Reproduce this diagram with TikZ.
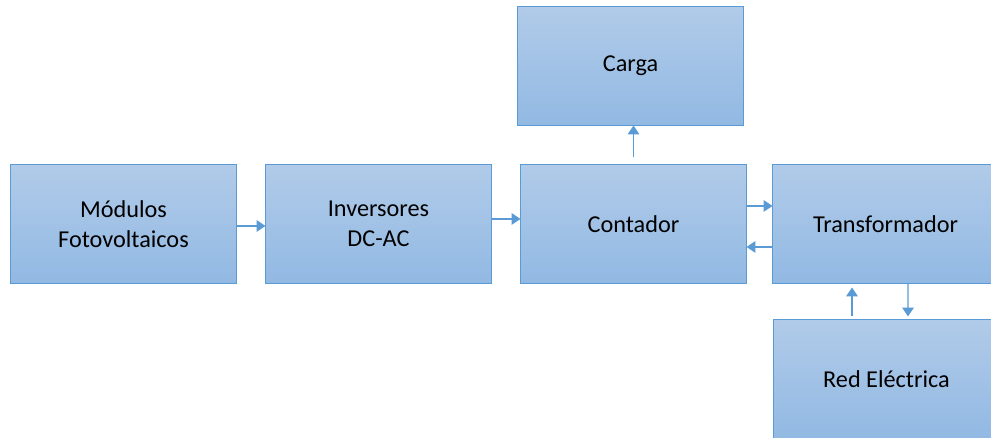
\documentclass[tikz,border=0pt]{standalone}
\usepackage{fontspec}
\setmainfont{Carlito}
\definecolor{boxline}{RGB}{91, 155, 213}
\definecolor{boxtop}{RGB}{177, 203, 233}
\definecolor{boxbottom}{RGB}{146, 185, 227}
\usepackage{tikz}
\usetikzlibrary{shapes, arrows.meta, positioning, calc}

\tikzset{
  blockbox/.style={draw=boxline, line width=0.6pt, top color=boxtop,
    bottom color=boxbottom, minimum width=4.52cm, minimum height=2.38cm,
    outer sep=0pt, align=center, font=\fontsize{13.8}{17}\selectfont},
  flowarrow/.style={draw=boxline, line width=0.7pt,
    -{Triangle[length=5pt, width=6.5pt]}}
}

\begin{document}
\begin{tikzpicture}
  \useasboundingbox (0,0) rectangle (19.82,8.76);

  % bloques
  \node[blockbox] (modulos) at (2.47,4.28) {Módulos\\Fotovoltaicos};
  \node[blockbox, right=0.58cm of modulos] (inversores) {Inversores\\DC-AC};
  \node[blockbox, right=0.58cm of inversores] (contador) {Contador};
  \node[blockbox, right=0.52cm of contador] (transformador) {Transformador};
  \node[blockbox, above=0.78cm of contador, xshift=-0.06cm] (carga) {Carga};
  \node[blockbox, below=0.72cm of transformador, xshift=0.02cm] (red) {Red Eléctrica};

  % flechas
  \draw[flowarrow] ([yshift=-0.04cm]modulos.east) -- ([yshift=-0.04cm]inversores.west);
  \draw[flowarrow] ([yshift=0.1cm]inversores.east) -- ([yshift=0.1cm]contador.west);
  \draw[flowarrow, shorten <=0.14cm] (contador.north) -- (contador.north |- carga.south);
  \draw[flowarrow] ([yshift=0.36cm]contador.east) -- ([yshift=0.36cm]transformador.west);
  \draw[flowarrow] ([yshift=-0.46cm]transformador.west) -- ([yshift=-0.46cm]contador.east);
  \draw[flowarrow, shorten <=0.06cm, shorten >=0.08cm]
    ([xshift=-0.69cm]red.north) -- ([xshift=-0.67cm]transformador.south);
  \draw[flowarrow, shorten >=0.06cm]
    ([xshift=0.45cm]transformador.south) -- ([xshift=0.43cm]red.north);
\end{tikzpicture}
\end{document}
